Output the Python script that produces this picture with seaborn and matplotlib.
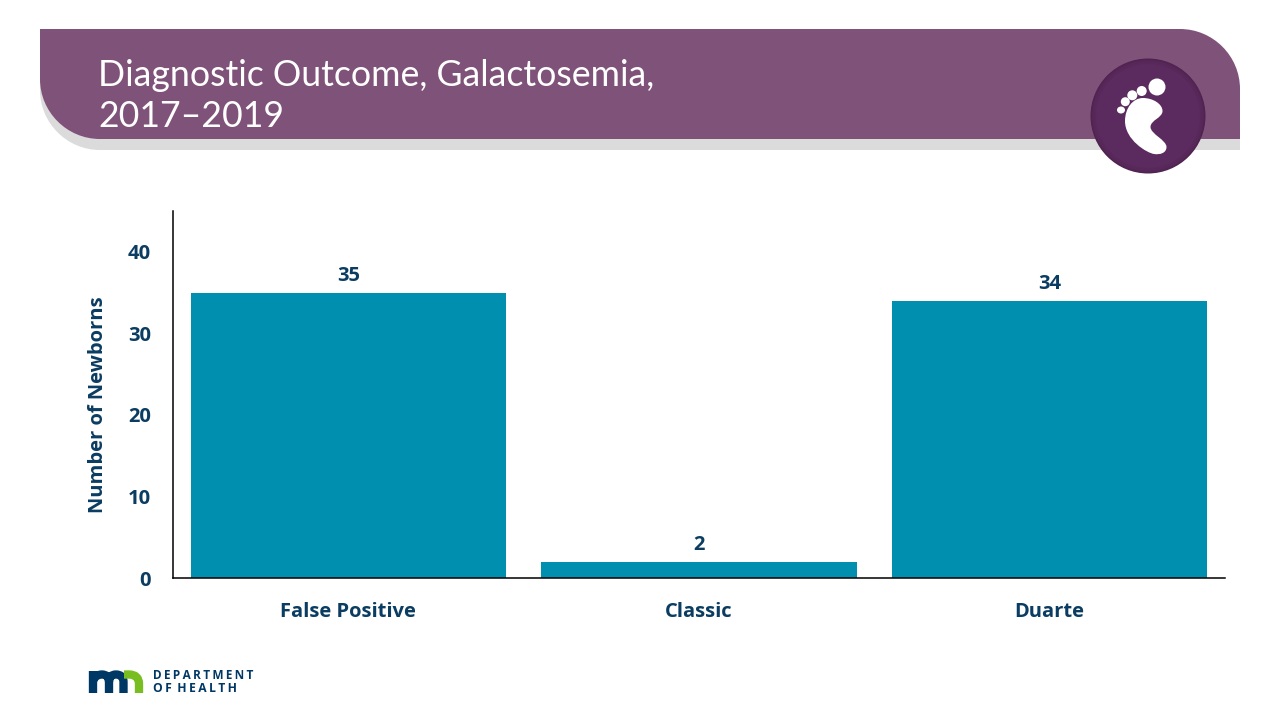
import matplotlib
matplotlib.use('Agg')
import matplotlib.pyplot as plt
import pandas as pd
import seaborn as sns
from matplotlib.patches import Circle, Ellipse, PathPatch
from matplotlib.path import Path

categories = ['False Positive', 'Classic', 'Duarte']
newborns = [35, 2, 34]
y_ticks = [0, 10, 20, 30, 40]

BAR = '#008FAE'
NAVY = '#0B3C61'
PURPLE = '#7F5279'

df = pd.DataFrame({'outcome': categories, 'newborns': newborns})

sns.set_theme(style='white')
plt.rcParams['font.family'] = ['Open Sans', 'DejaVu Sans']

fig = plt.figure(figsize=(12.8, 7.2), dpi=100)

# overlay in pixel coordinates for the slide furniture
bg = fig.add_axes([0, 0, 1, 1])
bg.set_xlim(0, 1280)
bg.set_ylim(720, 0)
bg.axis('off')


def banner(x0, x1, y0, y1, r, color, z):
    k = 0.45 * r
    verts = [(x0, y0), (x1 - r, y0),
             (x1 - k, y0), (x1, y0 + k), (x1, y0 + r),
             (x1, y1), (x0 + r, y1),
             (x0 + k, y1), (x0, y1 - k), (x0, y1 - r),
             (x0, y0)]
    codes = [Path.MOVETO, Path.LINETO,
             Path.CURVE4, Path.CURVE4, Path.CURVE4,
             Path.LINETO, Path.LINETO,
             Path.CURVE4, Path.CURVE4, Path.CURVE4,
             Path.CLOSEPOLY]
    bg.add_patch(PathPatch(Path(verts, codes), fc=color, ec='none', zorder=z))


banner(40, 1240, 40, 150, 60, '#DCDBDC', 1)
banner(40, 1240, 29, 139, 60, PURPLE, 2)

bg.text(98, 75.5, 'Diagnostic Outcome, Galactosemia,', color='white', fontsize=25.7,
        family=['Lato', 'DejaVu Sans'], va='center', zorder=3)
bg.text(98, 116.5, '2017–2019', color='white', fontsize=25.7,
        family=['Lato', 'DejaVu Sans'], va='center', zorder=3)

# foot badge, darker toward the rim
for r, c in [(57.5, '#4F2350'), (56.5, '#532554'), (55.5, '#562758'), (54, '#59285B'), (52, '#5B2A5E')]:
    bg.add_patch(Circle((1148, 116), r, fc=c, ec='none', zorder=3))
for cx, cy, w, h in [(1157, 87, 17, 17), (1141.7, 91, 10, 10), (1132.3, 95.3, 10, 10),
                     (1125.3, 101.7, 9, 9), (1121, 110, 8, 7)]:
    bg.add_patch(Ellipse((cx, cy), w, h, fc='white', ec='none', zorder=4))
foot = [(1143, 98),
        (1153, 98), (1162.5, 104), (1162.5, 111),
        (1162.5, 118), (1150.5, 120), (1150.5, 127),
        (1150.5, 134), (1166.5, 140), (1166.5, 147),
        (1166.5, 153), (1160, 155), (1154, 154),
        (1147, 153), (1125, 140), (1125, 121),
        (1125, 108), (1133, 98), (1143, 98)]
foot_codes = [Path.MOVETO] + [Path.CURVE4] * 18
bg.add_patch(PathPatch(Path(foot, foot_codes), fc='white', ec='none', zorder=4))

# logo
m_path = Path([(93, 693), (93, 671), (93, 681),
               (95, 674.5), (102, 674.5), (109, 674.5), (109, 682), (109, 693),
               (109, 682), (109, 674.5), (116, 674.5), (123.5, 674.5), (123.5, 682), (123.5, 693)],
              [Path.MOVETO, Path.LINETO, Path.MOVETO,
               Path.CURVE3, Path.CURVE3, Path.CURVE3, Path.CURVE3, Path.LINETO,
               Path.MOVETO, Path.CURVE3, Path.CURVE3, Path.CURVE3, Path.CURVE3, Path.LINETO])
bg.add_patch(PathPatch(m_path, fc='none', ec='#003865', lw=6, capstyle='butt', joinstyle='round', zorder=3))
n_path = Path([(124, 674.5), (129, 674.5), (139, 674.5), (139, 684), (139, 693)],
              [Path.MOVETO, Path.LINETO, Path.CURVE3, Path.CURVE3, Path.LINETO])
bg.add_patch(PathPatch(n_path, fc='none', ec='#78BE21', lw=6, capstyle='butt', joinstyle='round', zorder=3))
bg.text(153, 675.5, 'D\u2009E\u2009P\u2009A\u2009R\u2009T\u2009M\u2009E\u2009N\u2009T', color='#003865', fontsize=8.5,
        fontweight='bold', va='center')
bg.text(153, 689, 'O\u2009F\u2009 H\u2009E\u2009A\u2009L\u2009T\u2009H', color='#003865', fontsize=8.7,
        fontweight='bold', va='center')

# chart
ax = fig.add_axes([173 / 1280, (720 - 578) / 720, 1052 / 1280, 367 / 720])
ax.patch.set_alpha(0)
sns.barplot(data=df, x='outcome', y='newborns', color=BAR, saturation=1, width=0.9, linewidth=0, ax=ax)
ax.set_ylim(0, 45)
ax.set_xlim(-0.5, 2.5)
ax.set_yticks(y_ticks)
ax.set_xlabel('')
ax.set_ylabel('Number of Newborns', color=NAVY, fontsize=14.5, fontweight='bold')
ax.yaxis.set_label_coords(-0.0621, 0.473)
ax.tick_params(axis='both', length=0, labelsize=14.5, labelcolor=NAVY)
ax.tick_params(axis='x', pad=17)
ax.tick_params(axis='y', pad=16)
for lab in ax.get_xticklabels() + ax.get_yticklabels():
    lab.set_fontweight('bold')
for side in ['top', 'right']:
    ax.spines[side].set_visible(False)
for side in ['left', 'bottom']:
    ax.spines[side].set_color('black')
    ax.spines[side].set_linewidth(1.1)
ax.bar_label(ax.containers[0], color=NAVY, fontsize=14.5, fontweight='bold', padding=5)

fig.savefig('out.png', dpi=100)
